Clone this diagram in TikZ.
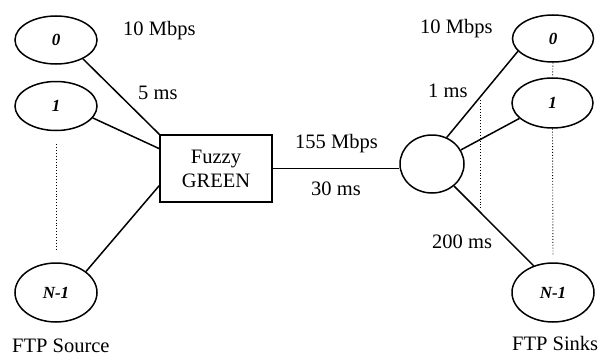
\documentclass[tikz,border=0pt]{standalone}
\usepackage{fontspec}
\setmainfont{Liberation Serif}
\usetikzlibrary{shapes.geometric,calc}
\begin{document}
\begin{tikzpicture}[x=1pt,y=-1pt,
  host/.style={draw,line width=1.5pt,ellipse,inner sep=0pt,font=\fontsize{17}{19}\selectfont\bfseries\itshape},
  link/.style={line width=1.5pt},
  dots/.style={line width=0.9pt,dotted},
  lab/.style={anchor=base west,inner sep=0pt,font=\fontsize{20.5}{24}\selectfont}]
\useasboundingbox (0,0) rectangle (603,356);
% left hosts
\node[host,minimum width=82pt,minimum height=48pt] (e0) at (56,40) {0};
\node[host,minimum width=82pt,minimum height=49pt] (e1) at (56,106) {1};
\node[host,minimum width=82pt,minimum height=59pt] (en) at (56,292.5) {N-1};
% router box
\node[draw,line width=1.5pt,minimum width=112pt,minimum height=67pt,inner sep=0pt,align=center,font=\fontsize{20.5}{24}\selectfont] (box) at (216,168.5) {Fuzzy\\GREEN};
% right router
\node[draw,line width=1.5pt,ellipse,minimum width=64pt,minimum height=58pt,inner sep=0pt] (circ) at (432,164) {};
% right hosts
\node[host,minimum width=81pt,minimum height=47pt] (r0) at (553,38.5) {0};
\node[host,minimum width=81pt,minimum height=50pt] (r1) at (552.5,103) {1};
\node[host,minimum width=82pt,minimum height=59pt] (rn) at (553,292.5) {N-1};
% links
\draw[link] (e0.-35) -- (box.north west);
\draw[link] (e1.-18) -- ($(box.north west)!0.21!(box.south west)$);
\draw[link] (en.35) -- ($(box.north west)!0.75!(box.south west)$);
\draw[link] (box.east) -- (box.east -| circ.west);
\draw[link] (circ.61) -- (r0.200);
\draw[link] (circ.26) -- (r1.205);
\draw[link] (circ.-45) -- (rn.126);
% dotted
\draw[dots,shorten <=13pt,shorten >=11pt] (e1.south) -- (en.north);
\draw[dots] (r0.south) -- (r1.north);
\draw[dots,shorten >=8pt] (r1.south) -- (rn.north);
\coordinate (d1) at (480,100);
\coordinate (d2) at (480,210);
\draw[dots] (d1) -- (d2);
% labels
\node[lab] (l10L) at (123,35) {10 Mbps};
\node[lab] (l5) at (138,99) {5 ms};
\node[lab] (l155) at (295,148) {155 Mbps};
\node[lab] (l30) at (311,195) {30 ms};
\node[lab] (l10R) at (420,33) {10 Mbps};
\node[lab] (l1) at (428,97) {1 ms};
\node[lab] (l200) at (432,248) {200 ms};
\node[lab] (src) at (12,352) {FTP Source};
\node[lab] (snk) at (512,350) {FTP Sinks};
\end{tikzpicture}
\end{document}
